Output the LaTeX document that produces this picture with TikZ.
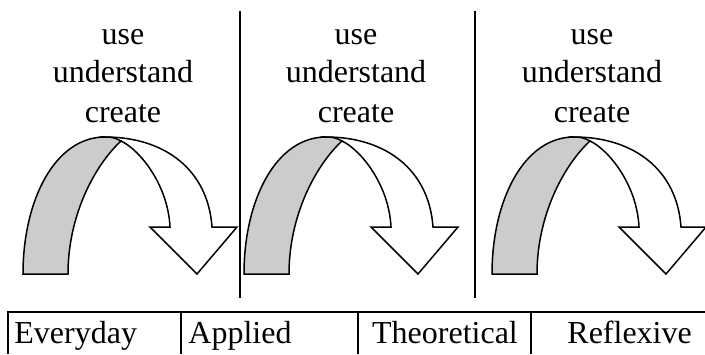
\documentclass[tikz,border=0pt]{standalone}
\usepackage{fontspec}
\setmainfont{Liberation Serif}
\begin{document}
\begin{tikzpicture}[x=0.5pt,y=0.5pt,
  arrowline/.style={line width=0.75pt, line join=miter, draw=black},
  sepline/.style={line width=0.85pt, draw=black},
  lbl/.style={inner sep=0pt, anchor=base, font=\fontsize{16}{19}\selectfont},
  cell/.style={inner sep=0pt, anchor=base west, font=\fontsize{16}{19}\selectfont},
  curvearrow/.pic={
    \draw[arrowline, fill=white] (98,133) .. controls (117,124) and (145,89) .. (147,47)
      -- (127,47) -- (174,0) -- (214,47) -- (189,47)
      .. controls (185,104) and (142,137) .. (82,137) -- cycle;
    \draw[arrowline, fill=black!20] (0,0) .. controls (0,74) and (32,137) .. (82,137)
      .. controls (90,137) and (92,136) .. (98,133)
      .. controls (72,109) and (45,59) .. (45,0) -- cycle;
  }]
\useasboundingbox (0,0) rectangle (705,354);

% text columns
\node[lbl] (u1) at (123,309) {use};
\node[lbl] (n1) at (123,271) {understand};
\node[lbl] (c1) at (123,232) {create};
\node[lbl] (u2) at (356,309) {use};
\node[lbl] (n2) at (356,271) {understand};
\node[lbl] (c2) at (356,232) {create};
\node[lbl] (u3) at (592,309) {use};
\node[lbl] (n3) at (592,271) {understand};
\node[lbl] (c3) at (592,232) {create};

% arrows
\pic at (23,80) {curvearrow};
\pic at (244,80) {curvearrow};
\pic at (492,80) {curvearrow};

% separators
\coordinate (s1t) at (240,343);
\coordinate (s1b) at (240,56);
\coordinate (s2t) at (475,343);
\coordinate (s2b) at (475,56);
\draw[sepline] (s1t) -- (s1b);
\draw[sepline] (s2t) -- (s2b);

% table
\coordinate (tl) at (8,42);
\coordinate (tr) at (705,42);
\coordinate (bl) at (8,0);
\coordinate (d1t) at (181,42);
\coordinate (d1b) at (181,0);
\coordinate (d2t) at (358,42);
\coordinate (d2b) at (358,0);
\coordinate (d3t) at (531,42);
\coordinate (d3b) at (531,0);
\draw[sepline] (bl) -- (tl) -- (tr);
\draw[sepline] (d1t) -- (d1b);
\draw[sepline] (d2t) -- (d2b);
\draw[sepline] (d3t) -- (d3b);

\node[cell] (e) at (14,11) {Everyday};
\node[cell] (a) at (188,11) {Applied};
\node[lbl] (t) at (445,11) {Theoretical};
\node[cell] (r) at (567,11) {Reflexive};
\end{tikzpicture}
\end{document}
